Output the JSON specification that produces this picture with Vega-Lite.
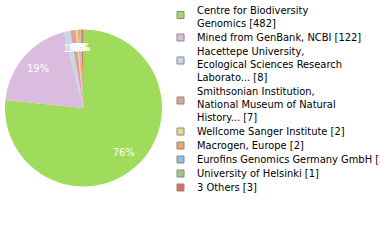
{
  "$schema": "https://vega.github.io/schema/vega-lite/v6.json",
  "width": 167,
  "height": 216,
  "padding": 0,
  "autosize": {"type": "pad"},
  "background": "white",
  "config": {"view": {"stroke": null}},
  "data": {"values": [
    {"org": "Centre for Biodiversity|Genomics [482]", "count": 482, "rank": 1, "pct": "76%"},
    {"org": "Mined from GenBank, NCBI [122]", "count": 122, "rank": 2, "pct": "19%"},
    {"org": "Hacettepe University,|Ecological Sciences Research|Laborato... [8]", "count": 8, "rank": 3, "pct": "1%"},
    {"org": "Smithsonian Institution,|National Museum of Natural|History... [7]", "count": 7, "rank": 4, "pct": "1%"},
    {"org": "Wellcome Sanger Institute [2]", "count": 2, "rank": 5, "pct": "0%"},
    {"org": "Macrogen, Europe [2]", "count": 2, "rank": 6, "pct": "0%"},
    {"org": "Eurofins Genomics Germany GmbH [2]", "count": 2, "rank": 7, "pct": "0%"},
    {"org": "University of Helsinki [1]", "count": 1, "rank": 8, "pct": "0%"},
    {"org": "3 Others [3]", "count": 3, "rank": 9, "pct": "0%"}
  ]},
  "encoding": {
    "theta": {"field": "count", "type": "quantitative", "stack": true},
    "order": {"field": "rank", "type": "quantitative"}
  },
  "layer": [
    {
      "mark": {"type": "arc", "outerRadius": 78.5},
      "encoding": {
        "color": {
          "field": "org",
          "type": "nominal",
          "scale": {
            "domain": [
              "Centre for Biodiversity|Genomics [482]",
              "Mined from GenBank, NCBI [122]",
              "Hacettepe University,|Ecological Sciences Research|Laborato... [8]",
              "Smithsonian Institution,|National Museum of Natural|History... [7]",
              "Wellcome Sanger Institute [2]",
              "Macrogen, Europe [2]",
              "Eurofins Genomics Germany GmbH [2]",
              "University of Helsinki [1]",
              "3 Others [3]"
            ],
            "range": ["#a0dc5c", "#dcbcde", "#c8d8e4", "#e0a098", "#dce09c", "#f0a868", "#98b8dc", "#a0c878", "#e07058"]
          },
          "legend": {
            "orient": "none",
            "legendX": 175,
            "legendY": 5,
            "title": null,
            "symbolType": "square",
            "symbolSize": 49,
            "symbolStrokeColor": "#888888",
            "symbolStrokeWidth": 1,
            "symbolOpacity": 1,
            "labelOffset": 11,
            "labelFont": "DejaVu Sans Condensed",
            "labelFontSize": 11,
            "labelLineHeight": 12,
            "labelColor": "#000000",
            "labelLimit": 400,
            "rowPadding": 2,
            "labelExpr": "split(datum.label, '|')",
            "encode": {
              "symbols": {"update": {"y": {"signal": "5.5 + (length(split(datum.value, '|')) - 1) * 4.5"}}}
            }
          }
        }
      }
    },
    {
      "mark": {"type": "text", "radius": 60, "color": "white", "font": "DejaVu Sans Condensed", "fontSize": 11},
      "encoding": {"text": {"field": "pct", "type": "nominal"}}
    }
  ]
}
